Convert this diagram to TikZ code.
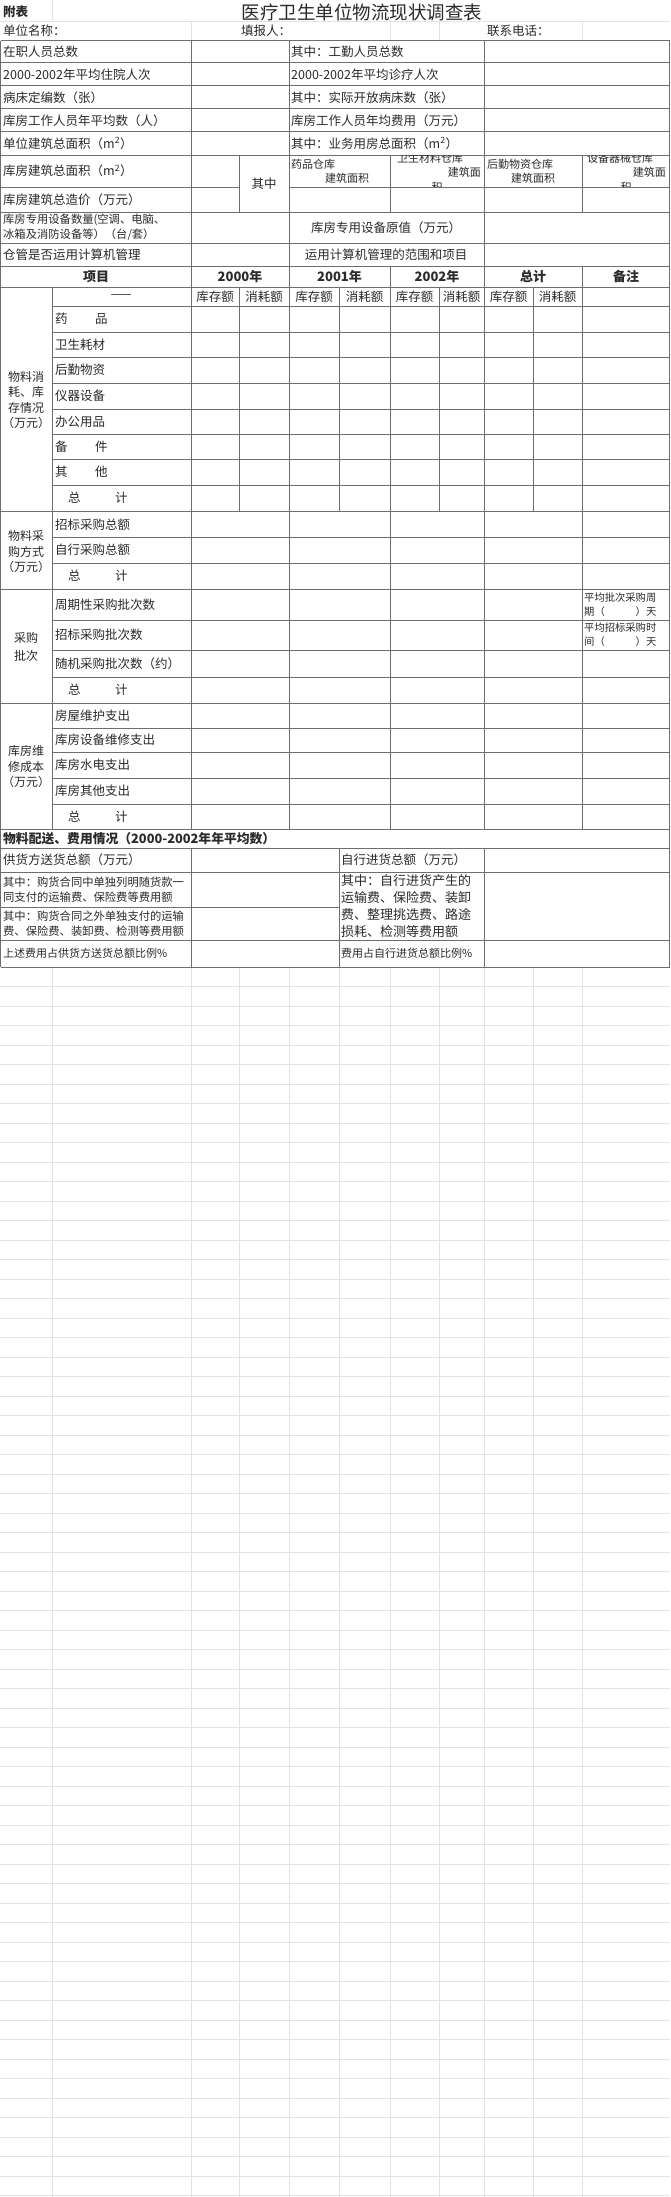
\documentclass[tikz,border=0pt]{standalone}
\usepackage{fontspec}
\setmainfont{Noto Sans CJK SC}
\usetikzlibrary{positioning}
\definecolor{ruleGray}{HTML}{6E6E6E}
\definecolor{faintGray}{HTML}{E3E3E3}
\definecolor{inkText}{HTML}{2A2A2A}

\begin{document}
\begin{tikzpicture}[x=1pt, y=-1pt,
        % Styles
        rowline/.style={draw=ruleGray, line width=1pt},
        faintline/.style={draw=faintGray, line width=0.8pt},
        txt/.style={inner sep=0pt, text=inkText, font=\fontsize{12.5}{15}\selectfont},
        lbl/.style={txt, anchor=west},
        ctr/.style={txt, anchor=center, align=center},
        grp/.style={ctr, font=\fontsize{12}{15.5}\selectfont},
        hdr/.style={ctr, font=\fontsize{13}{15}\selectfont\bfseries},
        smalltxt/.style={txt, anchor=west, align=left, font=\fontsize{11.3}{15}\selectfont},
        wraptxt/.style={txt, font=\fontsize{11}{14}\selectfont},
        remarktxt/.style={txt, anchor=west, align=left, text width=78pt, font=\fontsize{10.3}{14}\selectfont},
    ]
        \useasboundingbox (0,0) rectangle (670,2197);
        \fill[white] (0,0) rectangle (670,2197);

        % === Faint spreadsheet grid ===
        \draw[faintline] (0,21) -- (670,21);
        \draw[faintline] (52,0) -- (52,21);
        \foreach \x in {191,390,439,582}
            \draw[faintline] (\x,21) -- (\x,41);
        \foreach \x in {52,191,239,289,339,390,439,484,533,582}
            \draw[faintline] (\x,967) -- (\x,2197);
        \foreach \i in {1,...,63}
            \draw[faintline] (0,967+19.5*\i) -- (670,967+19.5*\i);

        % === Table rules: horizontal ===
        \foreach \y in {41,63,86,109,132,155,212,243,266,287,511,589,703,829,848,872,940,967}
            \draw[rowline] (0.5,\y) -- (669.5,\y);
        \foreach \y in {306,332,357,383,409,434,459,485,537,563,620,650,677,728,752,778,804}
            \draw[rowline] (52,\y) -- (669.5,\y);
        \draw[rowline] (0.5,187) -- (239,187);
        \draw[rowline] (289,187) -- (669.5,187);
        \draw[rowline] (0.5,907) -- (339,907);

        % === Table rules: vertical ===
        \draw[rowline] (0.5,41) -- (0.5,967);
        \draw[rowline] (669.5,41) -- (669.5,967);
        \draw[rowline] (191,41) -- (191,829);
        \draw[rowline] (191,848) -- (191,967);
        \draw[rowline] (289,41) -- (289,829);
        \draw[rowline] (484,41) -- (484,829);
        \draw[rowline] (484,848) -- (484,967);
        \draw[rowline] (239,155) -- (239,212);
        \draw[rowline] (390,155) -- (390,212);
        \draw[rowline] (582,155) -- (582,212);
        \draw[rowline] (390,266) -- (390,829);
        \draw[rowline] (582,266) -- (582,829);
        \draw[rowline] (52,287) -- (52,829);
        \foreach \x in {239,339,439,533}
            \draw[rowline] (\x,287) -- (\x,511);
        \draw[rowline] (339,848) -- (339,967);

        % === Title rows ===
        \node[lbl, font=\fontsize{12.5}{15}\selectfont\bfseries] (fubiao) at (3,12) {附表};
        \node[ctr, font=\fontsize{18.5}{20}\selectfont] (title) at (362,12) {医疗卫生单位物流现状调查表};
        \node[lbl] (unitName) at (3,31) {单位名称：};
        \node[lbl] (filler) at (241,31) {填报人：};
        \node[lbl] (phone) at (487,31) {联系电话：};

        % === Basic data rows ===
        \node[lbl] (rowL0) at (3,52) {在职人员总数};
        \node[lbl] (rowR0) at (291,52) {其中：工勤人员总数};
        \node[lbl] (rowL1) at (3,74.5) {2000-2002年平均住院人次};
        \node[lbl] (rowR1) at (291,74.5) {2000-2002年平均诊疗人次};
        \node[lbl] (rowL2) at (3,97.5) {病床定编数（张）};
        \node[lbl] (rowR2) at (291,97.5) {其中：实际开放病床数（张）};
        \node[lbl] (rowL3) at (3,120.5) {库房工作人员年平均数（人）};
        \node[lbl] (rowR3) at (291,120.5) {库房工作人员年均费用（万元）};
        \node[lbl] (rowL4) at (3,143.5) {单位建筑总面积（m\textsuperscript{2}）};
        \node[lbl] (rowR4) at (291,143.5) {其中：业务用房总面积（m\textsuperscript{2}）};
        \node[lbl] (rowL5) at (3,171) {库房建筑总面积（m\textsuperscript{2}）};
        \node[lbl] (rowL6) at (3,199.5) {库房建筑总造价（万元）};
        \node[ctr] (qizhong) at (264,183.5) {其中};

        % Warehouse area cells (wrapped text, clipped like the sheet)
        \node[wraptxt, anchor=west] (whDrugA) at (291,164) {药品仓库};
        \node[wraptxt, anchor=west] (whDrugB) at (325,178) {建筑面积};
        \begin{scope}
            \clip (390,155.5) rectangle (484,186.5);
            \node[wraptxt, anchor=west] (whSanA) at (397,158) {卫生材料仓库};
            \node[wraptxt, anchor=east] (whSanB) at (481,172) {建筑面};
            \node[wraptxt] (whSanC) at (437,187) {积};
        \end{scope}
        \node[wraptxt, anchor=west] (whLogA) at (487,164) {后勤物资仓库};
        \node[wraptxt, anchor=west] (whLogB) at (511,178) {建筑面积};
        \begin{scope}
            \clip (582,155.5) rectangle (669,186.5);
            \node[wraptxt, anchor=west] (whEqpA) at (587,158) {设备器械仓库};
            \node[wraptxt, anchor=east] (whEqpB) at (666,172) {建筑面};
            \node[wraptxt] (whEqpC) at (626,187) {积};
        \end{scope}

        \node[smalltxt] (rowL7) at (3,227.5) {库房专用设备数量(空调、电脑、\\冰箱及消防设备等）（台/套）};
        \node[ctr] (rowR7) at (386,227.5) {库房专用设备原值（万元）};
        \node[lbl] (rowL8) at (3,254.5) {仓管是否运用计算机管理};
        \node[ctr] (rowR8) at (386,254.5) {运用计算机管理的范围和项目};

        % === Year header ===
        \node[hdr] (hdrItem) at (96,276.5) {项目};
        \node[hdr] (hdrY0) at (240,276.5) {2000年};
        \node[hdr] (hdrY1) at (339.5,276.5) {2001年};
        \node[hdr] (hdrY2) at (437,276.5) {2002年};
        \node[hdr] (hdrSum) at (533,276.5) {总计};
        \node[hdr] (hdrNote) at (626,276.5) {备注};
        \node[ctr] (dash) at (121,296.5) {——};
        \node[ctr] (stock0) at (215,296.5) {库存额};
        \node[ctr] (used0) at (264,296.5) {消耗额};
        \node[ctr] (stock1) at (314,296.5) {库存额};
        \node[ctr] (used1) at (364.5,296.5) {消耗额};
        \node[ctr] (stock2) at (414.5,296.5) {库存额};
        \node[ctr] (used2) at (461.5,296.5) {消耗额};
        \node[ctr] (stock3) at (508.5,296.5) {库存额};
        \node[ctr] (used3) at (557.5,296.5) {消耗额};

        % === Material use and stock ===
        \node[grp] (grpUse) at (26,400) {物料消\\耗、库\\存情况\\（万元）};
        \node[lbl] (useA) at (55,319) {药\hspace{2.2em}品};
        \node[lbl] (useB) at (55,344.5) {卫生耗材};
        \node[lbl] (useC) at (55,370) {后勤物资};
        \node[lbl] (useD) at (55,396) {仪器设备};
        \node[lbl] (useE) at (55,421.5) {办公用品};
        \node[lbl] (useF) at (55,446.5) {备\hspace{2.2em}件};
        \node[lbl] (useG) at (55,472) {其\hspace{2.2em}他};
        \node[lbl] (useSum) at (68,498) {总\hspace{2.75em}计};

        % === Purchase mode ===
        \node[grp] (grpBuy) at (26,552) {物料采\\购方式\\（万元）};
        \node[lbl] (buyA) at (55,524.5) {招标采购总额};
        \node[lbl] (buyB) at (55,550) {自行采购总额};
        \node[lbl] (buySum) at (68,576) {总\hspace{2.75em}计};

        % === Purchase batches ===
        \node[grp, font=\fontsize{12}{18}\selectfont] (grpBatch) at (26,647) {采购\\批次};
        \node[lbl] (batchA) at (55,604.5) {周期性采购批次数};
        \node[lbl] (batchB) at (55,635) {招标采购批次数};
        \node[lbl] (batchC) at (55,663.5) {随机采购批次数（约）};
        \node[lbl] (batchSum) at (68,690) {总\hspace{2.75em}计};
        \node[remarktxt] (remCycle) at (584,604.5) {平均批次采购周\\期（\hspace{3em}）天};
        \node[remarktxt] (remTender) at (584,635) {平均招标采购时\\间（\hspace{3em}）天};

        % === Warehouse upkeep ===
        \node[grp] (grpKeep) at (26,767) {库房维\\修成本\\（万元）};
        \node[lbl] (keepA) at (55,715.5) {房屋维护支出};
        \node[lbl] (keepB) at (55,740) {库房设备维修支出};
        \node[lbl] (keepC) at (55,765) {库房水电支出};
        \node[lbl] (keepD) at (55,791) {库房其他支出};
        \node[lbl] (keepSum) at (68,816.5) {总\hspace{2.75em}计};

        % === Delivery and cost ===
        \node[lbl, font=\fontsize{12.8}{15}\selectfont\bfseries] (dlvTitle) at (3,838.5) {物料配送、费用情况（2000-2002年年平均数）};
        \node[lbl] (dlvL0) at (3,860) {供货方送货总额（万元）};
        \node[smalltxt] (dlvL1) at (3,889.5) {其中：购货合同中单独列明随货款一\\同支付的运输费、保险费等费用额};
        \node[smalltxt] (dlvL2) at (3,923.5) {其中：购货合同之外单独支付的运输\\费、保险费、装卸费、检测等费用额};
        \node[lbl, font=\fontsize{11}{14}\selectfont] (dlvL3) at (3,953.5) {上述费用占供货方送货总额比例\%};
        \node[lbl] (dlvR0) at (341,860) {自行进货总额（万元）};
        \node[lbl, align=left, font=\fontsize{13}{16.7}\selectfont] (dlvR1) at (341,906) {其中：自行进货产生的\\运输费、保险费、装卸\\费、整理挑选费、路途\\损耗、检测等费用额};
        \node[lbl, font=\fontsize{11}{14}\selectfont] (dlvR3) at (341,953.5) {费用占自行进货总额比例\%};

    \end{tikzpicture}
\end{document}
